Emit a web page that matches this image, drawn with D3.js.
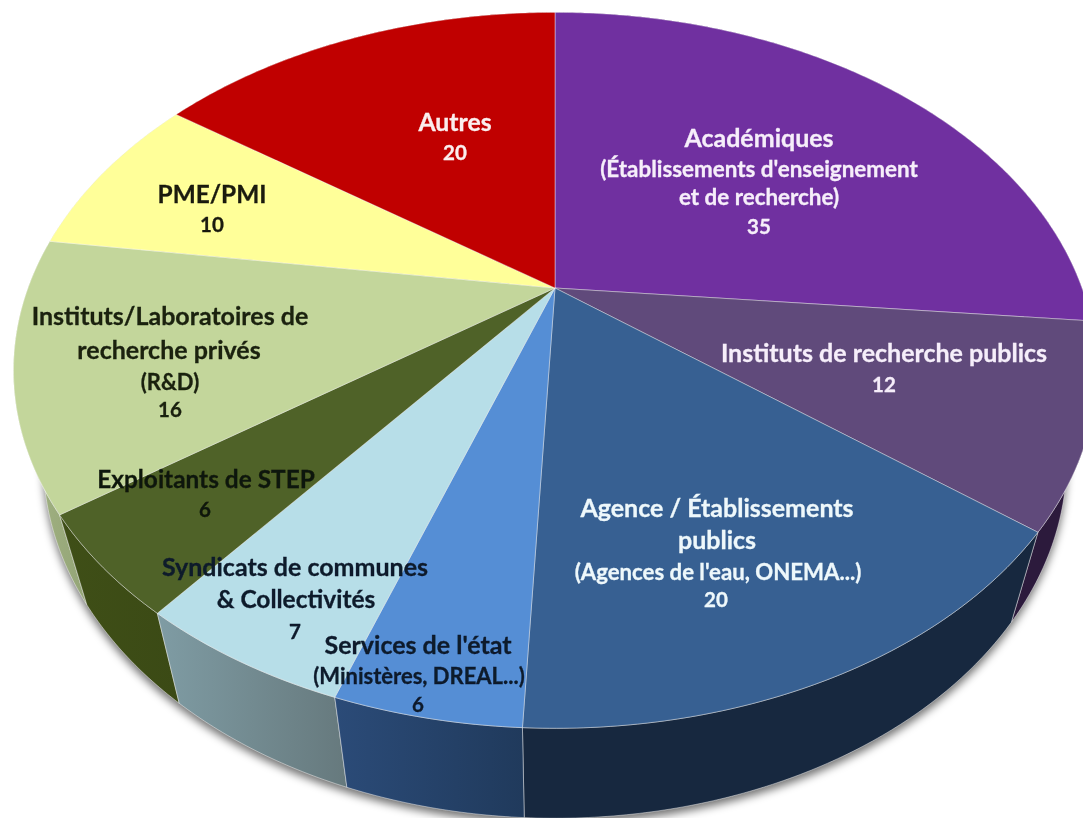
<!DOCTYPE html>
<html>
<head>
<meta charset="utf-8">
<script src="https://cdn.jsdelivr.net/npm/d3@7/dist/d3.min.js"></script>
<style>
  html, body { margin: 0; padding: 0; background: #fff; }
  svg { display: block; }
  text { font-family: Lato, "Open Sans", sans-serif; font-weight: 700; text-anchor: middle; stroke-width: 0.3; }
</style>
</head>
<body>
<div id="chart"></div>
<script>
// Data
var categories = ['Académiques', 'Instituts de recherche publics', 'Agence / Établissements publics',
    'Services de l\'état', 'Syndicats de communes & Collectivités', 'Exploitants de STEP',
    'Instituts/Laboratoires de recherche privés', 'PME/PMI', 'Autres'];
var values = [35, 12, 20, 6, 7, 6, 16, 10, 20];

var labelLines = [
    ['Académiques', '(Établissements d\'enseignement', 'et de recherche)'],
    ['Instituts de recherche publics'],
    ['Agence / Établissements', 'publics', '(Agences de l\'eau, ONEMA...)'],
    ['Services de l\'état', '(Ministères, DREAL...)'],
    ['Syndicats de communes', '& Collectivités'],
    ['Exploitants de STEP'],
    ['Instituts/Laboratoires de', 'recherche privés', '(R&D)'],
    ['PME/PMI'],
    ['Autres']
];

// Styles
var topColors = ['#7030a0', '#604a7b', '#376092', '#558ed5', '#b7dee8', '#4f6228', '#c3d69b', '#ffff99', '#c00000'];
var wallLeft = ['#3a1a55', '#2c1a3c', '#17283f', '#2b4b78', '#7f9ca4', '#3f4f17', '#a5b585', '#b0b070', '#700000'];
var wallRight = ['#3a1a55', '#2c1a3c', '#17283f', '#203a5c', '#66797d', '#3b4a15', '#94a577', '#b0b070', '#700000'];
var textColors = ['#f6eefa', '#f6eefa', '#eef8fb', '#0c1a2c', '#0c1a2c', '#11170a', '#1a2010', '#1a1a10', '#fbeeee'];

// Label layout: centre x and baseline y of each line, then font size of each line
var labelX = [[759, 759, 759, 759], [884, 884], [717, 717, 718, 716], [418, 419, 418], [295, 296, 295], [206, 205], [170, 169, 170, 170], [212, 212], [455, 455]];
var labelY = [[147, 177, 205, 234], [362, 392], [517, 549, 580, 607], [654, 684, 712], [576, 608, 639], [488, 517], [325, 359, 390, 417], [203, 232], [131, 160]];
var labelSize = [[25, 22.4, 22.4, 20.5], [25, 20.5], [25, 25, 22.2, 20.5], [25, 22, 20.5], [25, 24.5, 20.5], [24.4, 20.5], [25, 25, 22, 20.5], [24.4, 20.5], [24.8, 20.5]];

var svgWidth = 1083;
var svgHeight = 818;

// Perspective of the tilted disc: centre of the pie, radii, and depth factor
var cx = 555, cy = 288;
var radiusX = 527, radiusY = 339, persp = 0.23;
var wallDrop = 90, wallShrink = 0.945;

function topPoint(angle) {
    var w = 1 + persp * Math.cos(angle);
    return [cx + radiusX * Math.sin(angle) / w, cy - radiusY * Math.cos(angle) / w];
}

function bottomPoint(angle) {
    var p = topPoint(angle);
    return [cx + (p[0] - cx) * wallShrink, p[1] + wallDrop];
}

function arcAngles(d) {
    var n = Math.ceil((d.endAngle - d.startAngle) / 0.01);
    return d3.range(n + 1).map((i) => d.startAngle + (d.endAngle - d.startAngle) * i / n);
}

var svg = d3.select('#chart')
    .append('svg')
    .attr('width', svgWidth)
    .attr('height', svgHeight)
    .attr('viewBox', `0 0 ${svgWidth} ${svgHeight}`);

var defs = svg.append('defs');

defs.append('filter')
    .attr('id', 'soft-shadow')
    .attr('x', '-5%').attr('y', '-5%').attr('width', '110%').attr('height', '110%')
    .append('feGaussianBlur')
    .attr('stdDeviation', 4);

defs.append('filter')
    .attr('id', 'soft-text')
    .append('feGaussianBlur')
    .attr('stdDeviation', 0.35);

var pie = d3.pie().sort(null).startAngle(0).endAngle(2 * Math.PI);
var slices = pie(values);

var line = d3.line();

// Shadow under the lower rim
svg.append('path')
    .attr('d', line(d3.range(0, 2 * Math.PI, 0.01).map(bottomPoint)) + 'Z')
    .attr('transform', 'translate(0,5)')
    .attr('fill', '#000')
    .attr('fill-opacity', 0.55)
    .attr('filter', 'url(#soft-shadow)');

// Side walls, back to front
var wallOrder = slices.slice().sort((a, b) =>
    Math.cos((b.startAngle + b.endAngle) / 2) - Math.cos((a.startAngle + a.endAngle) / 2));

slices.forEach((d, i) => {
    var grad = defs.append('linearGradient')
        .attr('id', 'wall-' + i);
    grad.append('stop').attr('offset', '0%').attr('stop-color', wallLeft[i]);
    grad.append('stop').attr('offset', '100%').attr('stop-color', wallRight[i]);
});

svg.append('g')
    .selectAll('path')
    .data(wallOrder)
    .join('path')
    .attr('d', (d) => {
        var angles = arcAngles(d);
        return line(angles.map(topPoint).concat(angles.slice().reverse().map(bottomPoint))) + 'Z';
    })
    .attr('fill', (d) => 'url(#wall-' + d.index + ')')
    .attr('stroke', 'rgba(255,255,255,0.55)')
    .attr('stroke-width', 0.8);

// Top of the disc
svg.append('g')
    .selectAll('path')
    .data(slices)
    .join('path')
    .attr('d', (d) => line([[cx, cy]].concat(arcAngles(d).map(topPoint))) + 'Z')
    .attr('fill', (d) => topColors[d.index])
    .attr('stroke', 'rgba(255,255,255,0.45)')
    .attr('stroke-width', 0.9)
    .attr('stroke-linejoin', 'round');

// Labels: the text lines of the category, then its value
var labels = svg.append('g')
    .attr('filter', 'url(#soft-text)')
    .selectAll('g')
    .data(categories)
    .join('g');

labels.each(function (name, i) {
    var rows = labelLines[i].concat([String(values[i])]);
    d3.select(this)
        .selectAll('text')
        .data(rows)
        .join('text')
        .attr('x', (t, j) => labelX[i][j])
        .attr('y', (t, j) => labelY[i][j])
        .attr('font-size', (t, j) => labelSize[i][j])
        .attr('fill', textColors[i])
        .attr('stroke', textColors[i])
        .text((t) => t);
});
</script>
</body>
</html>
